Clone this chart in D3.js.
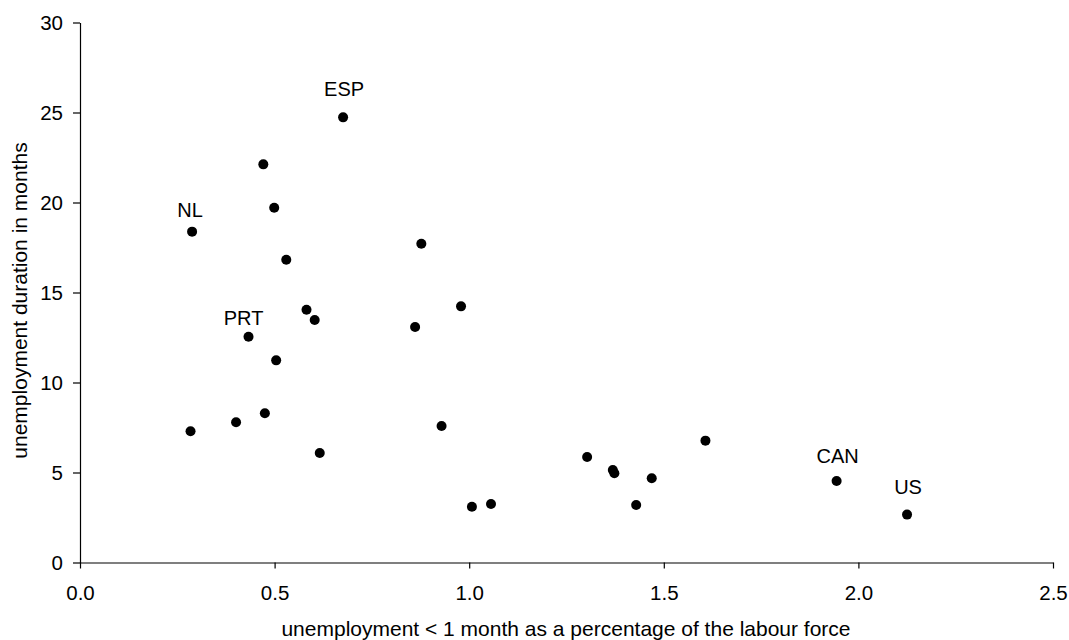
<!DOCTYPE html>
<html>
<head>
<meta charset="utf-8">
<script src="https://cdn.jsdelivr.net/npm/d3@7"></script>
<style>
  html, body { margin: 0; padding: 0; background: #fff; }
  svg { display: block; font-family: "Liberation Sans", Arial, sans-serif; }
</style>
</head>
<body>
<svg id="chart" width="1069" height="640"></svg>
<script>
// Short-term unemployment share (x) vs. average unemployment duration (y)
const shortTermShare = [
  0.676, 0.471, 0.499, 0.288, 0.530, 0.877, 0.979, 0.582, 0.603, 0.861,
  0.433, 0.504, 0.284, 0.401, 0.475, 0.616, 0.929, 1.007, 1.056, 1.303,
  1.369, 1.373, 1.469, 1.429, 1.607, 1.944, 2.125
];
const durationMonths = [
  24.73, 22.12, 19.71, 18.38, 16.82, 17.71, 14.23, 14.04, 13.47, 13.08,
  12.54, 11.23, 7.29, 7.79, 8.29, 6.08, 7.58, 3.10, 3.25, 5.86,
  5.14, 4.96, 4.68, 3.19, 6.77, 4.53, 2.66
];
const countryLabels = [
  "ESP", "", "", "NL", "", "", "", "", "", "",
  "PRT", "", "", "", "", "", "", "", "", "",
  "", "", "", "", "", "CAN", "US"
];
const xTicks = [0, 0.5, 1.0, 1.5, 2.0, 2.5];
const yTicks = [0, 5, 10, 15, 20, 25, 30];
const xTitle = "unemployment < 1 month as a percentage of the labour force";
const yTitle = "unemployment duration in months";

const points = shortTermShare.map((v, i) => ({
  x: v, y: durationMonths[i], label: countryLabels[i]
}));

const svg = d3.select("#chart");
const tickFont = 20.5;
const titleFont = 21;
const labelFont = 20;

const x = d3.scaleLinear().domain([0, 2.5]).range([80, 1053]);
const y = d3.scaleLinear().domain([0, 30]).range([562.5, 22.5]);

// X axis
const xAxis = svg.append("g")
  .attr("transform", `translate(0,${y(0)})`)
  .call(d3.axisBottom(x).tickValues(xTicks).tickFormat(d3.format(".1f"))
    .tickSizeInner(6).tickSizeOuter(0).tickPadding(17));

// Y axis
const yAxis = svg.append("g")
  .attr("transform", `translate(${x(0)},0)`)
  .call(d3.axisLeft(y).tickValues(yTicks).tickFormat(d3.format("d"))
    .tickSizeInner(7).tickSizeOuter(0).tickPadding(10));

[xAxis, yAxis].forEach(g => {
  g.attr("font-family", null).attr("font-size", null);
  g.select(".domain").attr("stroke", "#000").attr("stroke-width", 1.2);
  g.selectAll(".tick line").attr("stroke", "#000").attr("stroke-width", 1.2);
  g.selectAll(".tick text").attr("fill", "#000").style("font-size", tickFont + "px");
});

// Axis titles
svg.append("text")
  .attr("x", (x(0) + x(2.5)) / 2 - 0.5)
  .attr("y", 636)
  .attr("text-anchor", "middle")
  .style("font-size", titleFont + "px")
  .attr("fill", "#000")
  .text(xTitle);

svg.append("text")
  .attr("transform", `translate(27,${(y(0) + y(30)) / 2 + 8}) rotate(-90)`)
  .attr("text-anchor", "middle")
  .style("font-size", titleFont + "px")
  .attr("fill", "#000")
  .text(yTitle);

// Points
svg.append("g")
  .selectAll("circle")
  .data(points)
  .join("circle")
  .attr("cx", d => x(d.x))
  .attr("cy", d => y(d.y))
  .attr("r", 5)
  .attr("fill", "#000");

// Country labels above selected points
const labelLift = { ESP: 21, NL: 15, PRT: 12, CAN: 18, US: 21 };
svg.append("g")
  .selectAll("text")
  .data(points.filter(d => d.label))
  .join("text")
  .attr("x", d => x(d.x) + (d.label === "PRT" ? -5 : d.label === "NL" ? -2 : 1))
  .attr("y", d => y(d.y) - labelLift[d.label])
  .attr("text-anchor", "middle")
  .style("font-size", labelFont + "px")
  .attr("fill", "#000")
  .text(d => d.label);
</script>
</body>
</html>
